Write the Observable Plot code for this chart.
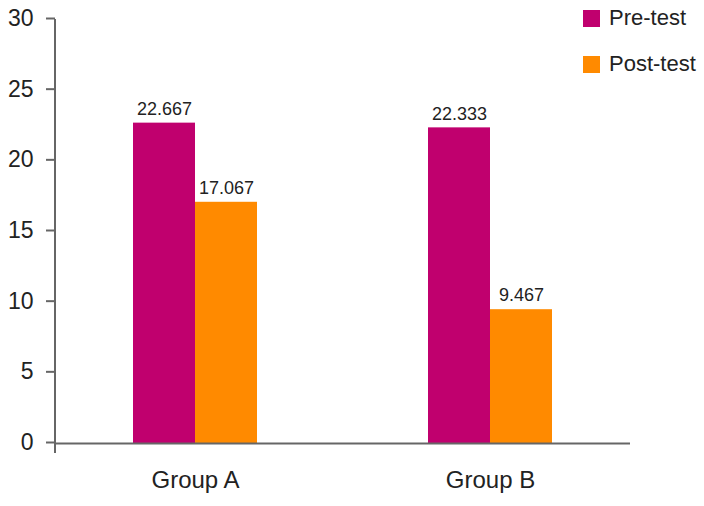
<!DOCTYPE html>
<html>
<head>
<meta charset="utf-8">
<script src="https://cdn.jsdelivr.net/npm/d3@7"></script>
<script src="https://cdn.jsdelivr.net/npm/@observablehq/plot@0.6"></script>
<style>
  html, body { margin: 0; padding: 0; background: #fff; }
  #wrap { position: relative; width: 704px; height: 506px; font-family: "Liberation Sans", Arial, sans-serif; }
  #legend { position: absolute; left: 583px; top: 0; font-size: 22px; color: #222; }
  .item { position: absolute; white-space: nowrap; display: flex; align-items: center; }
  .sw { width: 17px; height: 17px; margin-right: 9px; display: inline-block; }
</style>
</head>
<body>
<div id="wrap"><div id="legend"></div></div>
<script>
const groups = ["Group A", "Group B"];
const series = ["Pre-test", "Post-test"];
const preValues = [22.667, 22.333];
const postValues = [17.067, 9.467];
const colors = ["#C0006E", "#FF8A00"];
const yTicks = [0, 5, 10, 15, 20, 25, 30];

const data = [];
groups.forEach((g, i) => {
  data.push({group: g, series: series[0], value: preValues[i]});
  data.push({group: g, series: series[1], value: postValues[i]});
});
const pre = data.filter(d => d.series === series[0]);
const post = data.filter(d => d.series === series[1]);

const chart = Plot.plot({
  width: 704,
  height: 506,
  marginTop: 19,
  marginBottom: 63,
  marginLeft: 55,
  marginRight: 74,
  style: {fontFamily: "'Liberation Sans', Arial, sans-serif", background: "transparent"},
  x: {domain: groups, paddingInner: 0.58, paddingOuter: 0.264, axis: null, label: null},
  y: {domain: [0, 30], axis: null, label: null},
  marks: [
    Plot.barY(pre, {x: "group", y: "value", fill: colors[0], insetLeft: 0, insetRight: 62}),
    Plot.barY(post, {x: "group", y: "value", fill: colors[1], insetLeft: 62, insetRight: 0}),
    Plot.text(pre, {x: "group", y: "value", text: d => d.value.toFixed(3), dx: -31, dy: -14, fontSize: 18, fill: "#222"}),
    Plot.text(post, {x: "group", y: "value", text: d => d.value.toFixed(3), dx: 31, dy: -14, fontSize: 18, fill: "#222"}),
    Plot.ruleY([0], {stroke: "#666", strokeWidth: 2}),
    Plot.axisY({ticks: yTicks, tickSize: 9, tickPadding: 13, fontSize: 23, stroke: "#666", strokeWidth: 2, fill: "#222", tickFormat: d => String(d), dy: -1, label: null}),
    Plot.axisX({tickSize: 0, tickPadding: 27, fontSize: 24, fill: "#222", label: null})
  ]
});

// y-axis domain line, drawn from the library's own scales
const ys = chart.scale("y");
const xs = chart.scale("x");
const x0 = xs.range[0];
const yTop = ys.apply(ys.domain[1]);
const yBase = ys.apply(ys.domain[0]);
d3.select(chart).append("line")
  .attr("x1", x0).attr("x2", x0)
  .attr("y1", yTop).attr("y2", yBase + 10)
  .attr("stroke", "#666").attr("stroke-width", 2);

document.getElementById("wrap").prepend(chart);
chart.style.position = "absolute";
chart.style.left = "0px";
chart.style.top = "0px";

const legend = document.getElementById("legend");
series.forEach((s, i) => {
  const it = document.createElement("div");
  it.className = "item";
  it.style.top = (5 + i * 46) + "px";
  it.innerHTML = `<span class="sw" style="background:${colors[i]}"></span><span>${s}</span>`;
  legend.appendChild(it);
});
</script>
</body>
</html>
